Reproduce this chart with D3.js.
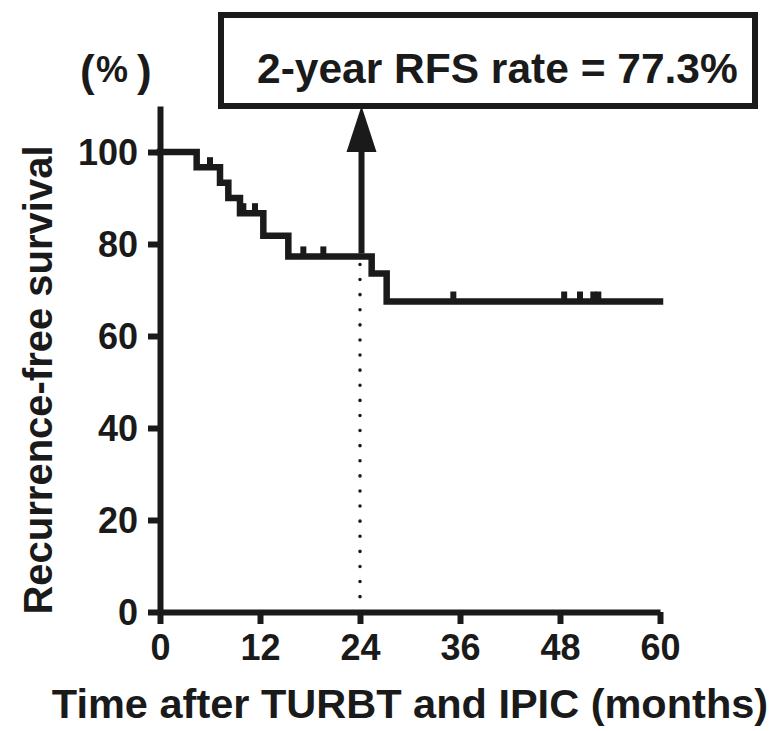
<!DOCTYPE html>
<html>
<head>
<meta charset="utf-8">
<script src="https://cdn.jsdelivr.net/npm/d3@7"></script>
<style>
  body { margin: 0; background: #fff; }
  svg text { font-family: "Liberation Sans", Arial, sans-serif; font-weight: bold; fill: #1a1a1a; }
</style>
</head>
<body>
<div id="chart"></div>
<script>
// Kaplan-Meier step data
const eventTimes = [4.4, 7.2, 8.2, 9.6, 12.4, 15.4, 25.4, 27.2];
const survival = [96.7, 93.3, 90.0, 86.7, 81.8, 77.3, 73.6, 67.5];
const censorTimes = [6.0, 10.0, 11.4, 17.2, 19.6, 35.2, 48.5, 50.4, 52.0, 52.6];
const xTicks = [0, 12, 24, 36, 48, 60];
const yTicks = [0, 20, 40, 60, 80, 100];
const landmark = 24;
const landmarkRate = 77.3;

const width = 774, height = 731;
const ink = "#1a1a1a";

let svg = d3.select('#chart')
    .append('svg')
    .attr('width', width)
    .attr('height', height);

let x = d3.scaleLinear().domain([0, 60]).range([160, 660]);
let y = d3.scaleLinear().domain([0, 110]).range([612, 106]);

// step function value at time t
function survAt(t) {
    let s = 100;
    eventTimes.forEach((e, i) => { if (e <= t) s = survival[i]; });
    return s;
}

let pts = [[0, 100]].concat(eventTimes.map((t, i) => [t, survival[i]]));
pts.push([60, survival[survival.length - 1]]);

// axes
let yAxis = d3.axisLeft(y).tickValues(yTicks).tickSize(12).tickSizeOuter(0);
let xAxis = d3.axisBottom(x).tickValues(xTicks).tickSize(12).tickSizeOuter(0);

let gy = svg.append('g').attr('transform', `translate(${x(0)},0)`).call(yAxis);
let gx = svg.append('g').attr('transform', `translate(0,${y(0)})`).call(xAxis);

[gx, gy].forEach(g => {
    g.selectAll('path.domain').attr('stroke', ink).attr('stroke-width', 6);
    g.selectAll('.tick line').attr('stroke', ink).attr('stroke-width', 6);
    g.selectAll('.tick text')
        .style('font-size', '36px')
        .attr('fill', ink);
});
gy.selectAll('.tick text').attr('x', -22).attr('dy', '0.36em');
gx.selectAll('.tick text').attr('y', 22).attr('dy', '0.71em');

// dotted landmark line
svg.append('line')
    .attr('x1', x(landmark)).attr('x2', x(landmark))
    .attr('y1', y(landmarkRate) + 8).attr('y2', y(0))
    .attr('stroke', ink)
    .attr('stroke-width', 3.5)
    .attr('stroke-linecap', 'round')
    .attr('stroke-dasharray', '0.1,15');

// survival curve
let line = d3.line()
    .x(d => x(d[0]))
    .y(d => y(d[1]))
    .curve(d3.curveStepAfter);

svg.append('path')
    .datum(pts)
    .attr('d', line)
    .attr('fill', 'none')
    .attr('stroke', ink)
    .attr('stroke-width', 6.5)
    .attr('stroke-linejoin', 'miter')
    .attr('stroke-linecap', 'square');

// censor marks
svg.append('g')
    .selectAll('line')
    .data(censorTimes)
    .join('line')
        .attr('x1', d => x(d)).attr('x2', d => x(d))
        .attr('y1', d => y(survAt(d)))
        .attr('y2', d => y(survAt(d)) - 10)
        .attr('stroke', ink)
        .attr('stroke-width', 6);

// annotation box
let boxTop = 12, boxBottom = 109;
svg.append('rect')
    .attr('x', 221).attr('y', boxTop + 3)
    .attr('width', 534).attr('height', boxBottom - boxTop - 6)
    .attr('fill', 'none')
    .attr('stroke', ink)
    .attr('stroke-width', 6);

svg.append('text')
    .attr('x', 257).attr('y', 83)
    .style('font-size', '42.5px')
    .text(`2-year RFS rate = ${landmarkRate}%`);

// arrow
let ax = x(landmark) + 1.5;
svg.append('line')
    .attr('x1', ax).attr('x2', ax)
    .attr('y1', y(landmarkRate) - 3).attr('y2', 148)
    .attr('stroke', ink)
    .attr('stroke-width', 6);
svg.append('path')
    .attr('d', `M${ax - 15},152 L${ax + 15},152 L${ax},${boxBottom - 3} Z`)
    .attr('fill', ink);

// "(%)" unit label: percent between slightly taller parentheses
svg.append('text').attr('x', 80).attr('y', 86).style('font-size', '44px').text('(');
svg.append('text').attr('x', 96).attr('y', 82).style('font-size', '36px').text('%');
svg.append('text').attr('x', 137).attr('y', 86).style('font-size', '44px').text(')');

svg.append('text')
    .attr('transform', `translate(52,380) rotate(-90)`)
    .attr('text-anchor', 'middle')
    .style('font-size', '40px')
    .text('Recurrence-free survival');

svg.append('text')
    .attr('x', 410).attr('y', 718)
    .attr('text-anchor', 'middle')
    .style('font-size', '41.5px')
    .text('Time after TURBT and IPIC (months)');
</script>
</body>
</html>
